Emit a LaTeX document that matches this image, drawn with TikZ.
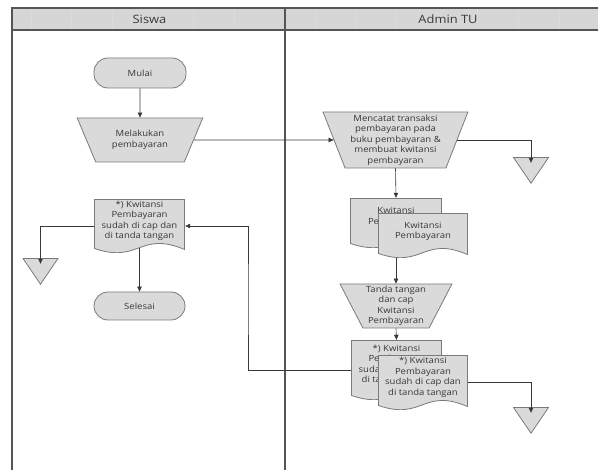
\documentclass[tikz,border=0pt]{standalone}
\usepackage{fontspec}
\setmainfont{Open Sans}[FakeStretch=1.12]
\usetikzlibrary{shapes.geometric}
\usetikzlibrary{arrows.meta}
\usetikzlibrary{calc}

\definecolor{shapefill}{HTML}{DADADA}
\definecolor{headfill}{HTML}{D6D6D6}
\definecolor{edge}{HTML}{7A7A7A}
\definecolor{lane}{HTML}{555555}
\definecolor{ink}{HTML}{383838}

\tikzset{
  txt/.style={font=\fontsize{8.5}{10.5}\selectfont, text=ink, align=center, inner sep=1pt},
  head/.style={font=\fontsize{11.5}{13}\selectfont, text=ink},
  laneline/.style={draw=lane, line width=1.1pt},
  terminal/.style={txt, draw=edge, fill=shapefill, line width=0.8pt, rounded corners=14pt,
    minimum width=92pt, minimum height=30pt},
  manual/.style={txt, trapezium, shape border rotate=180, trapezium stretches=true,
    draw=edge, fill=shapefill, line width=0.8pt},
  doc/.style={inner sep=0pt, path picture={
    \filldraw[draw=edge, fill=shapefill, line width=0.8pt]
      ([shift={(0.5pt,-0.5pt)}]path picture bounding box.north west)
      -- ([shift={(-0.5pt,-0.5pt)}]path picture bounding box.north east)
      -- ([shift={(-0.5pt,3.5pt)}]path picture bounding box.south east)
      .. controls ($(path picture bounding box.south)+(0pt,22.5pt)$)
      and ($(path picture bounding box.south)+(0pt,-10.9pt)$)
      .. ([shift={(0.5pt,4.5pt)}]path picture bounding box.south west) -- cycle;}},
  merge/.style={inner sep=0pt, minimum width=36pt, minimum height=27pt, path picture={
    \filldraw[draw=edge, fill=shapefill, line width=0.8pt]
      ([shift={(0.5pt,-0.5pt)}]path picture bounding box.north west)
      -- ([shift={(-0.5pt,-0.5pt)}]path picture bounding box.north east)
      -- ([yshift=0.8pt]path picture bounding box.south) -- cycle;}},
  arr/.style={draw=ink, line width=0.6pt, -{Triangle[length=5pt,width=4.5pt]}}
}

\begin{document}
\begin{tikzpicture}[x=1pt, y=-1pt]
  \useasboundingbox (0,0) rectangle (598,470);

  % swimlanes
  \fill[headfill] (12,8) rectangle (598,30);
  \foreach \x in {31,71.6,112.2,152.8,193.4,234,315.2,355.8,396.4,437,477.6,518.2,558.8}
    \draw[gray!28, line width=0.3pt] (\x,8) -- (\x,30);
  \draw[laneline] (12,470) -- (12,8) -- (598,8);
  \draw[laneline] (12,30) -- (598,30);
  \draw[laneline] (285,8) -- (285,470);
  \node[head] (siswa) at (149.5,19) {Siswa};
  \node[head] (admin) at (448,19) {Admin TU};

  % Siswa
  \node[terminal] (mulai) at (140,73) {Mulai};
  \node[manual, minimum width=126pt, minimum height=44pt, trapezium angle=60] (bayar) at (140,140)
    {Melakukan\\pembayaran};
  \node[doc, minimum width=91pt, minimum height=54pt] (cap) at (139.5,226) {};
  \node[txt] (cap-t) at ([yshift=5pt]cap.center) {*) Kwitansi\\Pembayaran\\sudah di cap dan\\di tanda tangan};
  \node[merge] (off1) at (40.5,271.5) {};
  \node[terminal, minimum width=91pt, minimum height=28pt] (selesai) at (139.5,306) {Selesai};

  % Admin TU
  \node[manual, minimum width=145pt, minimum height=56pt, trapezium angle=69] (catat) at (395.5,140)
    {Mencatat transaksi\\pembayaran pada\\buku pembayaran \&\\membuat kwitansi\\pembayaran};
  \node[merge] (off2) at (531,170.5) {};
  \node[doc, minimum width=92pt, minimum height=50pt] (kw1) at (396,223) {};
  \node[txt] (kw1-t) at ([yshift=6pt]kw1.center) {Kwitansi\\Pembayaran};
  \node[doc, minimum width=90pt, minimum height=45pt] (kw2) at (423,235.5) {};
  \node[txt] (kw2-t) at ([yshift=4pt]kw2.center) {Kwitansi\\Pembayaran};
  \node[manual, minimum width=112pt, minimum height=44pt, trapezium angle=63] (ttd) at (396,306)
    {Tanda tangan\\dan cap\\Kwitansi\\Pembayaran};
  \node[doc, minimum width=91pt, minimum height=60pt] (kc1) at (396.5,370) {};
  \node[txt] (kc1-t) at ([yshift=5pt]kc1.center) {*) Kwitansi\\Pembayaran\\sudah di cap dan\\di tanda tangan};
  \node[doc, minimum width=90pt, minimum height=55pt] (kc2) at (423,382.5) {};
  \node[txt] (kc2-t) at ([yshift=5pt]kc2.center) {*) Kwitansi\\Pembayaran\\sudah di cap dan\\di tanda tangan};
  \node[merge] (off3) at (531,420.5) {};
  \coordinate (back) at (248,300);

  % connectors
  \draw[arr] (mulai.south) -- (bayar.north);
  \draw[arr] (bayar.east) -- (catat.west);
  \draw[arr, shorten >=-6pt] (catat.east) -| (off2.north);
  \draw[arr] (catat.south) -- (kw1.north);
  \draw[arr] (kw2.south -| ttd.north) -- (ttd.north);
  \draw[arr] (ttd.south) -- (kc1.north);
  \draw[arr, shorten >=-6pt] (kc2.east) -| (off3.north);
  \draw[arr] (kc1.west) -| (back) |- (cap.east);
  \draw[arr, shorten >=-6pt] (cap.west) -| (off1.north);
  \draw[arr] ([yshift=5pt]cap.south) -- (selesai.north);
\end{tikzpicture}
\end{document}
